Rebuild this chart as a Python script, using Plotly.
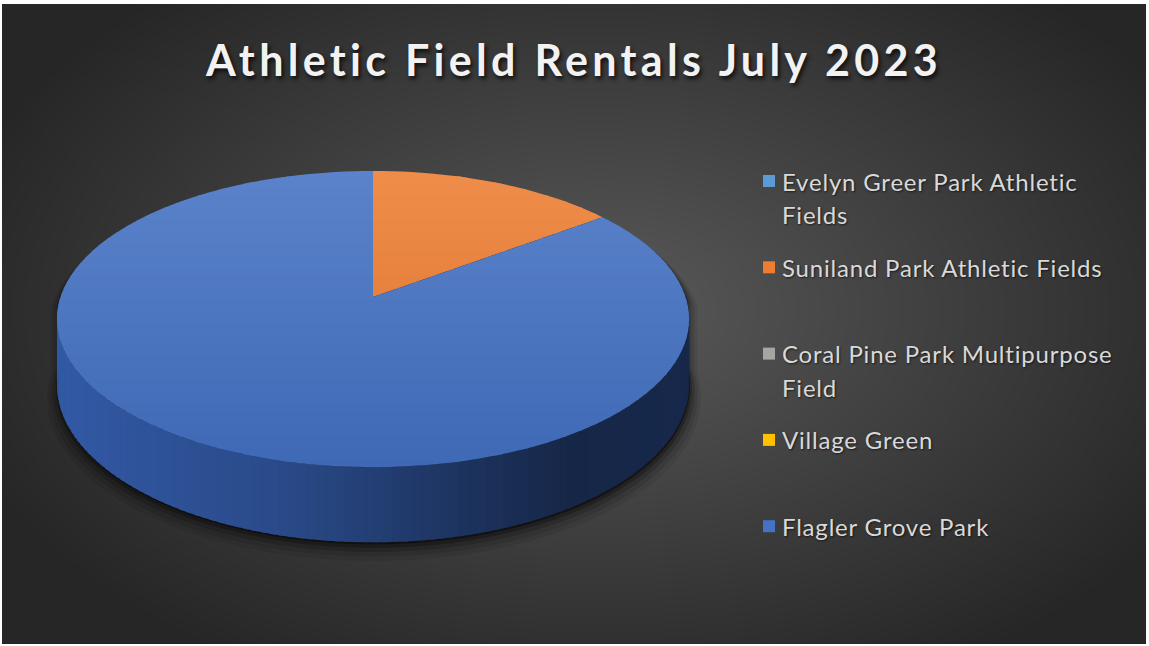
import math
import plotly.graph_objects as go

# ---- data -------------------------------------------------------------
TITLE = "Athletic Field Rentals July 2023"
parks = [
    "Evelyn Greer Park Athletic Fields",
    "Suniland Park Athletic Fields",
    "Coral Pine Park Multipurpose Field",
    "Village Green",
    "Flagler Grove Park",
]
# wrapped legend text (one list of lines per park)
legend_lines = [
    ["Evelyn Greer Park Athletic", "Fields"],
    ["Suniland Park Athletic Fields"],
    ["Coral Pine Park Multipurpose", "Field"],
    ["Village Green"],
    ["Flagler Grove Park"],
]
rentals = [0, 9, 0, 0, 52]
colors = ["#5B9BD5", "#ED7D31", "#A5A5A5", "#FFC000", "#4472C4"]

# ---- canvas -------------------------------------------------------------
W, H = 1149, 646
L_M, T_M, R_M, B_M = 2, 4, 3, 2

# 3-D pie projection parameters (pixel space)
CX, CY = 373.0, 297.0      # projected centre of the top face
RX, RY = 312.5, 144.8      # radii before perspective
K = 0.149                  # perspective strength
DEPTH = 64.0               # wall height


def hex2rgb(h):
    h = h.lstrip("#")
    return tuple(int(h[i:i + 2], 16) for i in (0, 2, 4))


def rgb(c):
    return "rgb(%d,%d,%d)" % tuple(max(0, min(255, round(v))) for v in c)


def mix(c1, c2, a):
    return tuple(c1[i] + (c2[i] - c1[i]) * a for i in range(3))


def top_pt(t):
    s, c = math.sin(t), math.cos(t)
    f = 1.0 + K * s
    return (CX + RX * c / f, CY - RY * s / f)


def bot_pt(t):
    x, y = top_pt(t)
    return (x, y + DEPTH / (1.0 + K * math.sin(t)))


def path(pts):
    return "M " + " L ".join("%.2f,%.2f" % p for p in pts) + " Z"


def clip_band(poly, y1, y2):
    def clip(pts, inside, yc):
        out = []
        for i in range(len(pts)):
            cur, prev = pts[i], pts[i - 1]
            def inter(p, q):
                u = (yc - p[1]) / (q[1] - p[1])
                return (p[0] + u * (q[0] - p[0]), yc)
            if inside(cur):
                if not inside(prev):
                    out.append(inter(prev, cur))
                out.append(cur)
            elif inside(prev):
                out.append(inter(prev, cur))
        return out
    pts = clip(poly, lambda p: p[1] >= y1, y1)
    if pts:
        pts = clip(pts, lambda p: p[1] <= y2, y2)
    return pts


def spaced(text, px):
    return '<span style="letter-spacing:%.1fpx">%s</span>' % (px, text)


shapes = []

# ---- radial background --------------------------------------------------
BG_C = (600.0, 310.0)
BG_R = (680.0, 420.0)
steps = 52
for i in range(steps + 1):
    d = 1.0 - i / steps
    g = 90 - 52 * d
    shapes.append(dict(type="circle", xref="x", yref="y", layer="below",
                       x0=BG_C[0] - BG_R[0] * d, x1=BG_C[0] + BG_R[0] * d,
                       y0=BG_C[1] - BG_R[1] * d, y1=BG_C[1] + BG_R[1] * d,
                       fillcolor=rgb((g, g, g)), line=dict(width=0)))

# ---- slice angles ---------------------------------------------------------
total = float(sum(rentals))
fracs = [v / total for v in rentals]
starts = []
acc = 0.0
for f in fracs:
    starts.append(acc)
    acc += f


def angle(frac):
    # clockwise from 12 o'clock
    return math.radians(90.0 - 360.0 * frac)


def owner(t):
    fr = ((math.pi / 2 - t) / (2 * math.pi)) % 1.0
    for i, f in enumerate(fracs):
        if f > 0 and starts[i] <= fr < starts[i] + f + 1e-12:
            return i
    return len(fracs) - 1


# ---- drop shadow ------------------------------------------------------------
sil = [top_pt(math.radians(a)) for a in range(0, 181, 3)] + \
      [bot_pt(math.radians(a)) for a in range(180, 361, 3)]
for grow, dy, op in [(1.035, 10, 0.07), (1.025, 8, 0.10), (1.015, 6, 0.16),
                     (1.006, 4, 0.25), (1.0, 2, 0.40)]:
    pts = [(CX + (x - CX) * grow + 1, CY + (y - CY) * grow + dy) for x, y in sil]
    shapes.append(dict(type="path", xref="x", yref="y", layer="below",
                       path=path(pts), fillcolor="rgba(0,0,0,%.2f)" % op,
                       line=dict(width=0)))

# ---- side wall ----------------------------------------------------------------
wall_shade = [(0.0, 0.84), (0.35, 0.70), (0.6, 0.52), (0.82, 0.36), (1.0, 0.38)]


def shade_at(u):
    for (u0, s0), (u1, s1) in zip(wall_shade, wall_shade[1:]):
        if u <= u1:
            return s0 + (s1 - s0) * (u - u0) / (u1 - u0)
    return wall_shade[-1][1]


n_wall = 120
for j in range(n_wall):
    t1 = math.pi + math.pi * j / n_wall
    t2 = math.pi + math.pi * (j + 1.6) / n_wall
    tm = (t1 + t2) / 2
    i = owner(tm)
    base = hex2rgb(colors[i])
    xm = top_pt(tm)[0]
    u = (xm - (CX - RX)) / (2 * RX)
    s = shade_at(u)
    col = (base[0] * s * 0.88, base[1] * s * 0.93, base[2] * s * 1.0)
    pts = [top_pt(t1), top_pt(t2), bot_pt(t2), bot_pt(t1)]
    shapes.append(dict(type="path", xref="x", yref="y", layer="below",
                       path=path(pts), fillcolor=rgb(col), line=dict(width=0)))

# ---- top face with vertical gradient --------------------------------------------
y_top = CY - RY / (1 + K)
y_bot = CY + RY / (1 - K)
n_band = 48
for i, f in enumerate(fracs):
    if f <= 0:
        continue
    a0, a1 = angle(starts[i]), angle(starts[i] + f)
    m = max(4, int(360 * f / 2))
    arc = [top_pt(a0 + (a1 - a0) * q / m) for q in range(m + 1)]
    poly = ([(CX, CY)] + arc) if f < 0.9999 else arc
    base = hex2rgb(colors[i])
    light = mix(base, (255, 255, 255), 0.12)
    dark = mix(base, (0, 0, 0), 0.08)
    for b in range(n_band):
        y1 = y_top + (y_bot - y_top) * b / n_band
        y2 = y_top + (y_bot - y_top) * (b + 1) / n_band
        piece = clip_band(poly, y1 - 0.7, y2 + 0.7)
        if len(piece) < 3:
            continue
        col = mix(light, dark, (b + 0.5) / n_band)
        shapes.append(dict(type="path", xref="x", yref="y", layer="below",
                           path=path(piece), fillcolor=rgb(col),
                           line=dict(width=0)))

# ---- legend ----------------------------------------------------------------------
LEG_X_SQ, LEG_X_TXT = 769, 780
LEG_Y0, LEG_STEP, LINE_H = 181, 86.3, 33.5
leg_y = [LEG_Y0 + LEG_STEP * i for i in range(len(parks))]

annotations = [dict(text=spaced(TITLE, 4.3), x=573, y=59, xref="x", yref="y",
                    xanchor="center", yanchor="middle", showarrow=False,
                    font=dict(family="Lato", size=43, color="#f2f2f2",
                              weight=700,
                              shadow="2px 3px 4px rgba(0,0,0,0.75)"))]
for i, lines in enumerate(legend_lines):
    for k, ln in enumerate(lines):
        annotations.append(dict(text=spaced(ln, 0.8), x=LEG_X_TXT,
                                y=leg_y[i] + LINE_H * k,
                                xref="x", yref="y", xanchor="left",
                                yanchor="middle", showarrow=False,
                                font=dict(family="Lato", size=24,
                                          color="#d9d9d9",
                                          shadow="1px 1px 2px rgba(0,0,0,0.6)")))

fig = go.Figure()
fig.add_trace(go.Scatter(
    x=[LEG_X_SQ] * len(parks), y=leg_y, mode="markers",
    marker=dict(symbol="square", size=12, color=colors, line=dict(width=0)),
    text=parks, hoverinfo="text", showlegend=False))

fig.update_layout(
    width=W, height=H,
    margin=dict(l=L_M, r=R_M, t=T_M, b=B_M, pad=0),
    paper_bgcolor="#ffffff",
    plot_bgcolor="#262626",
    shapes=shapes,
    annotations=annotations,
    showlegend=False,
    xaxis=dict(range=[L_M, W - R_M], visible=False, fixedrange=True),
    yaxis=dict(range=[H - B_M, T_M], visible=False, fixedrange=True),
)

fig.write_html("out.html")
